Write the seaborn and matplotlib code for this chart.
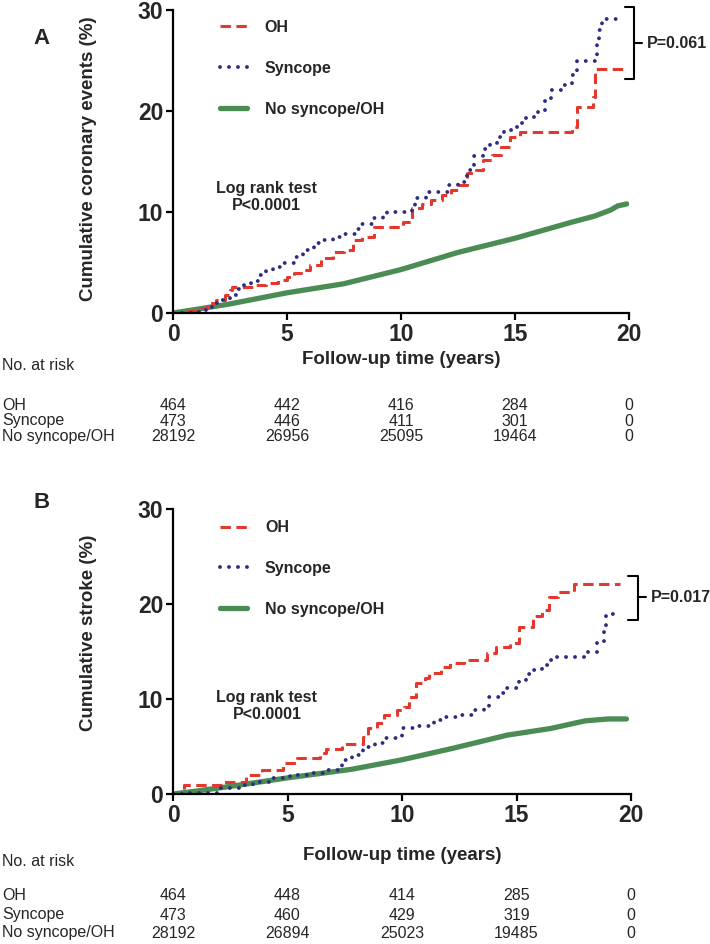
import matplotlib
matplotlib.use("Agg")
import matplotlib.pyplot as plt
import matplotlib.transforms as mtransforms
from matplotlib import font_manager
import seaborn as sns

sns.set_style("white")
plt.rcParams['font.family'] = ['Liberation Sans', 'DejaVu Sans']

names = {f.name for f in font_manager.fontManager.ttflist}
NARROW = 'Liberation Sans Narrow' if 'Liberation Sans Narrow' in names else 'Liberation Sans'
TABLE_SIZE = 14 if NARROW == 'Liberation Sans Narrow' else 11.5

# ---- data ----
groups = ["OH", "Syncope", "No syncope/OH"]
risk_times = [0, 5, 10, 15, 20]

# panel A: coronary events
a_oh_t = [0, 0.5, 1.0, 1.5, 1.9, 2.3, 2.5, 2.6, 3.6, 4.1, 4.6, 5.0, 5.3, 5.6, 6.0, 6.5, 7.0, 7.5,
          7.9, 8.3, 8.8, 10.1, 10.5, 10.9, 11.3, 11.8, 12.2, 12.5, 12.9, 13.3, 13.6, 14.0, 14.4,
          14.8, 15.2, 17.5, 17.7, 18.4, 18.5, 19.8]
a_oh_v = [0, 0.2, 0.5, 1.0, 1.3, 1.8, 2.3, 2.6, 2.8, 3.0, 3.3, 3.6, 4.0, 4.3, 4.8, 5.4, 6.0, 6.2,
          7.2, 7.5, 8.5, 9.0, 10.4, 10.8, 11.2, 11.7, 12.2, 12.7, 13.9, 14.2, 15.1, 15.6, 16.4,
          17.4, 17.9, 18.4, 20.4, 21.4, 24.2, 24.2]
a_syn_t = [0, 0.8, 1.2, 1.5, 1.8, 2.1, 2.5, 2.8, 3.1, 3.4, 3.8, 4.1, 4.4, 4.8, 5.3, 5.7, 6.2, 6.6,
           7.0, 7.5, 8.0, 8.3, 8.8, 9.2, 9.4, 10.5, 10.6, 11.1, 12.1, 12.5, 12.9, 13.2, 13.6, 13.9,
           14.2, 14.5, 15.1, 15.5, 16.0, 16.3, 16.6, 17.0, 17.5, 17.7, 18.6, 18.7, 18.8, 19.6]
a_syn_v = [0, 0.1, 0.3, 0.6, 1.0, 1.3, 1.8, 2.4, 2.8, 3.2, 3.8, 4.3, 4.6, 5.0, 5.5, 6.2, 6.9, 7.2,
           7.5, 7.8, 8.3, 8.8, 9.4, 9.8, 10.0, 10.2, 11.4, 12.0, 12.7, 13.0, 14.2, 15.5, 16.2, 16.8,
           17.4, 18.1, 18.8, 19.4, 19.9, 21.0, 22.1, 22.6, 23.6, 25.0, 26.5, 28.0, 29.1, 29.1]
a_none_t = [0, 1.0, 2.5, 5.0, 7.5, 10.0, 12.5, 15.0, 17.5, 18.5, 19.2, 19.5, 19.9]
a_none_v = [0, 0.35, 0.9, 2.0, 2.9, 4.3, 6.0, 7.4, 9.0, 9.6, 10.2, 10.6, 10.8]
a_risk = [[464, 442, 416, 284, 0],
          [473, 446, 411, 301, 0],
          [28192, 26956, 25095, 19464, 0]]

# panel B: stroke
b_oh_t = [0, 0.5, 2.2, 3.2, 3.9, 4.8, 5.4, 6.4, 6.7, 7.4, 8.3, 8.5, 8.9, 9.2, 9.8, 10.1, 10.3,
          10.6, 11.0, 11.2, 11.7, 12.1, 12.7, 13.7, 14.1, 14.7, 15.1, 15.7, 16.1, 16.4, 16.8,
          17.5, 19.5]
b_oh_v = [0, 0.95, 1.3, 2.0, 2.5, 3.3, 3.8, 4.3, 4.7, 5.3, 6.0, 6.9, 7.5, 8.3, 8.8, 9.2, 10.2,
          11.7, 12.2, 12.7, 13.4, 13.8, 14.1, 14.8, 15.5, 15.9, 17.6, 18.7, 19.4, 20.7, 21.3,
          22.1, 22.1]
b_syn_t = [0, 0.6, 2.0, 3.0, 3.5, 4.2, 5.1, 5.9, 6.7, 7.2, 7.4, 7.8, 8.3, 8.8, 9.3, 9.8, 10.0,
           10.6, 11.4, 11.9, 12.5, 13.1, 13.6, 13.8, 14.3, 14.6, 15.1, 15.4, 15.7, 16.1, 16.4,
           16.7, 18.0, 18.5, 18.8, 18.9, 19.4]
b_syn_v = [0, 0.1, 0.6, 1.0, 1.3, 1.7, 2.0, 2.2, 2.5, 3.0, 3.6, 4.1, 4.9, 5.4, 5.9, 6.0, 6.9,
           7.2, 7.8, 8.1, 8.3, 8.8, 9.2, 10.2, 10.6, 11.2, 12.0, 12.6, 13.1, 13.6, 14.1,
           14.4, 15.0, 15.9, 17.5, 18.9, 18.9]
b_none_t = [0, 1.0, 2.5, 5.0, 7.8, 10.0, 12.2, 14.6, 16.5, 18.0, 19.0, 19.8]
b_none_v = [0, 0.3, 0.8, 1.7, 2.6, 3.6, 4.8, 6.2, 6.9, 7.7, 7.9, 7.9]
b_risk = [[464, 448, 414, 285, 0],
          [473, 460, 429, 319, 0],
          [28192, 26894, 25023, 19485, 0]]

RED = "#E2382E"
BLUE = "#2D2D82"
GREEN = "#4B8C55"
W, H = 710, 944


def px(x, y, w, h):
    # pixel box (from top-left) -> figure fraction
    return [x / W, 1 - (y + h) / H, w / W, h / H]


def draw_panel(fig, ax, curves, ylabel, ylabel_y, letter, letter_y, ptext, bracket,
               logrank_xy, leg_anchor, risk, xlabel_y, risk_ys):
    (ot, ov), (st, sv), (nt, nv) = curves
    sns.lineplot(x=nt, y=nv, ax=ax, color=GREEN, lw=3.8, estimator=None, sort=False,
                 label="No syncope/OH")
    sns.lineplot(x=ot, y=ov, ax=ax, color=RED, lw=2.2, estimator=None, sort=False,
                 drawstyle="steps-post", ls=(0, (3.4, 1.8)), label="OH")
    sns.lineplot(x=st, y=sv, ax=ax, color=BLUE, lw=2.8, estimator=None, sort=False,
                 drawstyle="steps-post", ls=(0, (0.01, 2.3)), dash_capstyle="round",
                 label="Syncope")
    ax.set_xlim(0, 20)
    ax.set_ylim(0, 30)
    ax.set_xticks([0, 5, 10, 15, 20])
    ax.set_yticks([0, 10, 20, 30])
    sns.despine(ax=ax)
    for s in ("left", "bottom"):
        ax.spines[s].set_linewidth(1.6)
        ax.spines[s].set_color("black")
    ax.tick_params(direction="out", length=5, width=1.6, color="black", labelsize=16.5,
                   pad=2, left=True, bottom=True)
    for lab in ax.get_xticklabels() + ax.get_yticklabels():
        lab.set_fontweight("bold")
    ax.set_xlabel("")
    ax.set_ylabel(ylabel, fontsize=13.5, fontweight="bold")
    ax.yaxis.set_label_coords(-0.167, ylabel_y)

    # legend (order OH, Syncope, No syncope/OH)
    hd, lb = ax.get_legend_handles_labels()
    order = [lb.index(g) for g in groups]
    ax.legend([hd[i] for i in order], [lb[i] for i in order], loc="upper left",
              bbox_to_anchor=leg_anchor, frameon=False, borderpad=0, borderaxespad=0,
              handlelength=1.7, handletextpad=1.1, labelspacing=1.62,
              prop={"weight": "bold", "size": 11.5})

    ax.text(logrank_xy[0], logrank_xy[1], "Log rank test\nP<0.0001", ha="center",
            va="center", fontsize=11.5, fontweight="bold", linespacing=1.15)

    # bracket with p value
    xl, xv, xm, yt, yb, ym = bracket
    ax.plot([xl, xv, xv, xl], [yt, yt, yb, yb], color="black", lw=1.5, clip_on=False,
            solid_joinstyle="round")
    ax.plot([xv, xm], [ym, ym], color="black", lw=1.5, clip_on=False)
    ax.text(xm + 0.2, ym, ptext, ha="left", va="center", fontsize=11.5,
            fontweight="bold", clip_on=False)

    fig.text(42 / W, 1 - letter_y / H, letter, ha="center", va="center", fontsize=16,
             fontweight="bold")

    # x label and number at risk table
    trans = mtransforms.blended_transform_factory(ax.transData, fig.transFigure)
    ax.text(10, 1 - xlabel_y / H, "Follow-up time (years)", transform=trans, ha="center",
            va="center", fontsize=13.5, fontweight="bold")
    fig.text(2 / W, 1 - (xlabel_y + 6) / H, "No. at risk", ha="left", va="center",
             fontsize=TABLE_SIZE, family=NARROW)
    for g, row, ry in zip(groups, risk, risk_ys):
        fig.text(2 / W, 1 - ry / H, g, ha="left", va="center", fontsize=TABLE_SIZE,
                 family=NARROW)
        for t, n in zip(risk_times, row):
            ax.text(t, 1 - ry / H, str(n), transform=trans, ha="center", va="center",
                    fontsize=TABLE_SIZE, family=NARROW)


fig = plt.figure(figsize=(W / 100, H / 100), dpi=100)
ax_a = fig.add_axes(px(173, 10, 456, 303))
ax_b = fig.add_axes(px(173, 509, 458, 285))

draw_panel(fig, ax_a,
           [(a_oh_t, a_oh_v), (a_syn_t, a_syn_v), (a_none_t, a_none_v)],
           "Cumulative coronary events (%)", 0.51, "A", 39, "P=0.061",
           (19.82, 20.22, 20.57, 30.3, 23.2, 26.7), (4.1, 11.5), (0.103, 0.967),
           a_risk, 360, [405, 421, 437])
draw_panel(fig, ax_b,
           [(b_oh_t, b_oh_v), (b_syn_t, b_syn_v), (b_none_t, b_none_v)],
           "Cumulative stroke (%)", 0.565, "B", 503, "P=0.017",
           (19.87, 20.3, 20.65, 22.9, 18.3, 20.7), (4.1, 9.3), (0.103, 0.961),
           b_risk, 855, [896, 915, 933])

fig.savefig("out.png", dpi=100)
